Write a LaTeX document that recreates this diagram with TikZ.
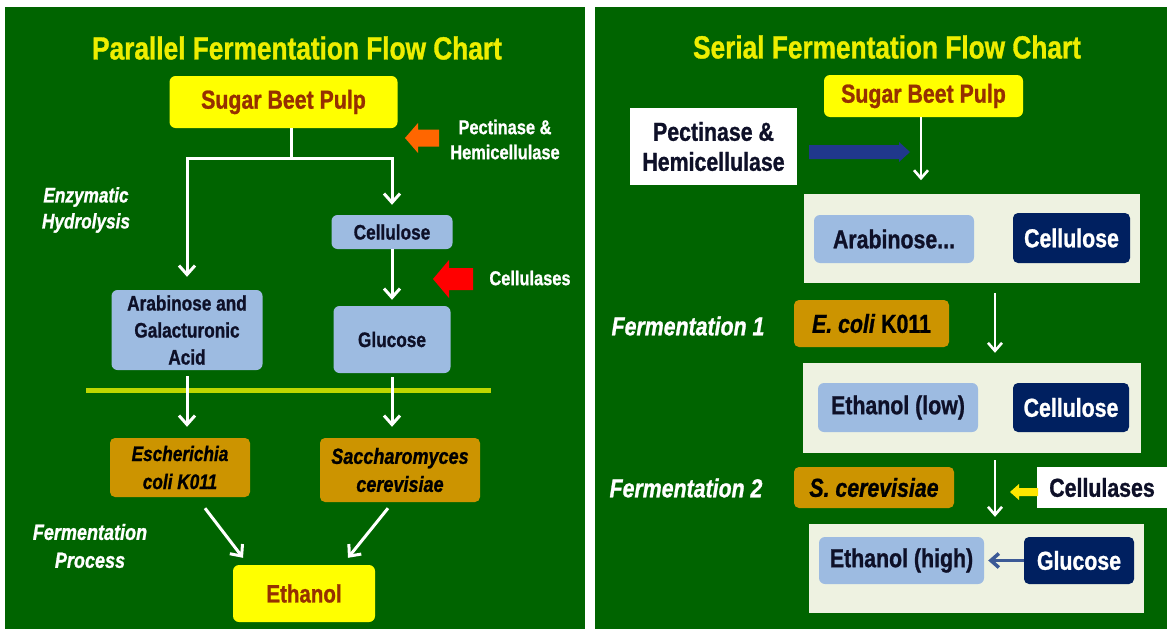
\documentclass[tikz,border=0pt]{standalone}
\usepackage{fontspec}
\setmainfont{Liberation Sans}[FakeStretch=0.82, BoldFeatures={FakeBold=1}, BoldItalicFeatures={FakeBold=1}]
\usetikzlibrary{arrows.meta}

\definecolor{bggreen}{RGB}{0,100,0}
\definecolor{titleyellow}{RGB}{238,238,0}
\definecolor{boxyellow}{RGB}{255,255,0}
\definecolor{pulpbrown}{RGB}{150,48,0}
\definecolor{lightblue}{RGB}{157,187,225}
\definecolor{inknavy}{RGB}{14,16,40}
\definecolor{navy}{RGB}{0,32,96}
\definecolor{ochre}{RGB}{204,148,0}
\definecolor{paleback}{RGB}{238,242,225}
\definecolor{limeline}{RGB}{190,215,0}
\definecolor{arrowred}{RGB}{255,0,0}
\definecolor{arroworange}{RGB}{255,102,0}
\definecolor{arrowblue}{RGB}{32,56,140}
\definecolor{arrowyellow}{RGB}{255,230,0}
\definecolor{steelarrow}{RGB}{60,90,150}

\newcommand\fsz[2]{\fontsize{#1}{#2}\selectfont\bfseries}

\begin{document}
\begin{tikzpicture}[x=1pt,y=-1pt,
  box/.style={inner sep=0pt, align=center},
  ybox/.style={box, rounded corners=6pt, fill=boxyellow, text=pulpbrown},
  lbbox/.style={box, rounded corners=6pt, fill=lightblue, text=inknavy},
  obox/.style={box, rounded corners=5pt, fill=ochre, text=black},
  nbox/.style={box, rounded corners=5pt, fill=navy, text=white},
  wbox/.style={box, fill=white, text=inknavy},
  pale/.style={box, fill=paleback},
  title/.style={inner sep=0pt, text=titleyellow, font=\fsz{32}{38}},
  note/.style={inner sep=0pt, align=center, text=white},
  wline/.style={draw=white, line width=3pt},
  warrow/.style={wline, -{Straight Barb[length=9pt,width=16pt]}},
  wthin/.style={draw=white, line width=2.6pt, -{Straight Barb[length=8pt,width=14pt]}},
  barrow/.style={draw=steelarrow, line width=3.5pt, -{Straight Barb[length=8pt,width=14pt]}}
]
% page and the two panels
\fill[white] (0,0) rectangle (1167,629);
\fill[bggreen] (5,7) rectangle (585,629);
\fill[bggreen] (595,7) rectangle (1167,629);
\useasboundingbox (0,0) rectangle (1167,629);

%% ---------------- parallel fermentation ----------------
\node[title] (ptitle) at (297,48) {Parallel Fermentation Flow Chart};
\node[ybox, minimum width=228pt, minimum height=52pt, font=\fsz{26}{30}] (psbp) at (283.5,102) {Sugar Beet Pulp};
\node[lbbox, minimum width=121pt, minimum height=34pt, font=\fsz{21}{26}] (pcell) at (392,232) {Cellulose};
\node[lbbox, minimum width=151pt, minimum height=80pt, font=\fsz{21}{27}] (parab) at (187,330) {Arabinose and\\Galacturonic\\Acid};
\node[lbbox, minimum width=117pt, minimum height=67pt, font=\fsz{21}{26}] (pgluc) at (392,339.5) {Glucose};
\node[obox, minimum width=140pt, minimum height=59pt, font=\fsz{21}{28}\itshape] (pesch) at (180,467.5) {Escherichia\\coli K011};
\node[obox, minimum width=160pt, minimum height=64pt, font=\fsz{22}{28}\itshape] (psacc) at (400,470) {Saccharomyces\\cerevisiae};
\node[ybox, minimum width=142pt, minimum height=57pt, font=\fsz{25}{30}] (peth) at (304,593.5) {Ethanol};

\node[note, font=\fsz{20}{25}] (ppect) at (505,139.5) {Pectinase \&\\Hemicellulase};
\node[note, font=\fsz{20}{25}] (pcellu) at (530,278) {Cellulases};
\node[note, font=\fsz{21}{26}\itshape] (penz) at (86,210) {Enzymatic\\Hydrolysis};
\node[note, font=\fsz{22}{28}\itshape] (pferm) at (90,546) {Fermentation\\Process};

% enzyme block arrows
\fill[arroworange] (405,138) -- (418,123) -- (418,129.5) -- (439,129.5) -- (439,146.5) -- (418,146.5) -- (418,153) -- cycle;
\fill[arrowred] (433,279) -- (449,260) -- (449,268) -- (473,268) -- (473,290) -- (449,290) -- (449,298) -- cycle;

% hydrolysis branches
\coordinate (pj) at (291,158);
\draw[wline] (psbp.south -| pj) -- (pj);
\draw[warrow, shorten >=10pt] (pj) -| (pcell.north);
\draw[warrow, shorten >=13pt] (pj) -| (parab.north);
\draw[warrow, shorten >=6pt] (pcell.south) -- (pgluc.north);

% separator between hydrolysis and fermentation
\draw[limeline, line width=5pt] (86,390) -- (491,390);

\draw[warrow, shorten <=6pt, shorten >=11pt] (parab.south) -- (parab.south |- pesch.north);
\draw[warrow, shorten <=4pt, shorten >=11pt] (pgluc.south) -- (pgluc.south |- psacc.north);
\draw[warrow] ([xshift=25pt,yshift=-11pt]pesch.south) -- ([xshift=-61pt,yshift=7pt]peth.north);
\draw[warrow] ([xshift=-12pt,yshift=-6pt]psacc.south) -- ([xshift=44pt,yshift=7pt]peth.north);

%% ---------------- serial fermentation ----------------
\node[title] (stitle) at (887,47) {Serial Fermentation Flow Chart};
\node[ybox, minimum width=199pt, minimum height=42pt, font=\fsz{26}{30}] (ssbp) at (923.5,96) {Sugar Beet Pulp};
\node[wbox, minimum width=167pt, minimum height=77pt, font=\fsz{26}{30}] (spect) at (713.5,146.5) {Pectinase \&\\Hemicellulase};
\fill[arrowblue] (809,145) -- (899,145) -- (899,142) -- (910,152) -- (899,162) -- (899,159) -- (809,159) -- cycle;
\draw[wthin] ([xshift=-2.5pt]ssbp.south) -- ++(0,63);

\node[pale, minimum width=336pt, minimum height=89pt] (sbox1) at (972,238.5) {};
\node[lbbox, minimum width=160pt, minimum height=48pt, font=\fsz{26}{30}] (sarab) at (894,239) {Arabinose...};
\node[nbox, minimum width=117pt, minimum height=50pt, font=\fsz{26}{30}] (scellA) at (1071.5,238) {Cellulose};

\node[note, font=\fsz{26}{30}\itshape] (sferm1) at (688,326) {Fermentation 1};
\node[obox, minimum width=155pt, minimum height=47pt, font=\fsz{26}{30}] (secoli) at (871.5,323.5) {\textit{E. coli} K011};

\node[pale, minimum width=338pt, minimum height=90pt] (sbox2) at (972,408) {};
\node[lbbox, minimum width=160pt, minimum height=49pt, font=\fsz{26}{30}] (sethlow) at (898,407.5) {Ethanol (low)};
\node[nbox, minimum width=116pt, minimum height=49pt, font=\fsz{26}{30}] (scellB) at (1071,407.5) {Cellulose};

\node[note, font=\fsz{26}{30}\itshape] (sferm2) at (686,488) {Fermentation 2};
\node[obox, minimum width=160pt, minimum height=41pt, font=\fsz{26}{30}\itshape] (sscer) at (874,487.5) {S. cerevisiae};
\node[wbox, minimum width=130pt, minimum height=41pt, font=\fsz{26}{30}] (scellu) at (1102,487.5) {Cellulases};
\fill[arrowyellow] (1010,492) -- (1019,484) -- (1019,488) -- (1038,488) -- (1038,496) -- (1019,496) -- (1019,500) -- cycle;

\node[pale, minimum width=335pt, minimum height=89pt] (sbox3) at (976.5,568.5) {};
\node[lbbox, minimum width=165pt, minimum height=47pt, font=\fsz{26}{30}] (sethhigh) at (901.5,560.5) {Ethanol (high)};
\node[nbox, minimum width=110pt, minimum height=47pt, font=\fsz{26}{30}] (sgluc) at (1079,560.5) {Glucose};
\draw[barrow, shorten >=4pt] (sgluc.west) -- (sethhigh.east);

% fermentation steps
\coordinate (sd) at (995,0);
\draw[wthin, shorten <=10pt, shorten >=10pt] (sbox1.south -| sd) -- (sbox2.north -| sd);
\draw[wthin, shorten <=7pt, shorten >=7pt] (sbox2.south -| sd) -- (sbox3.north -| sd);
\end{tikzpicture}
\end{document}
